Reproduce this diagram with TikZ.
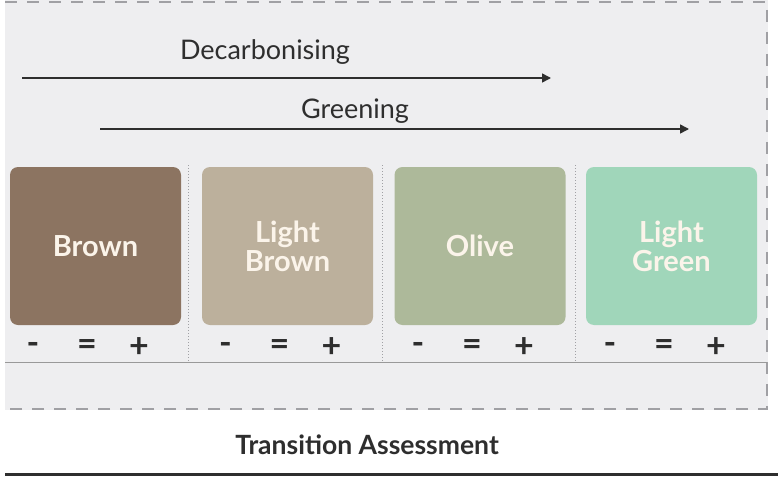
\documentclass[tikz,border=0pt]{standalone}
\usepackage{fontspec}
\setmainfont{Lato}
\usetikzlibrary{arrows.meta}
\definecolor{panel}{HTML}{EEEEF0}
\definecolor{cbrown}{HTML}{8C7461}
\definecolor{clbrown}{HTML}{BCB09C}
\definecolor{colive}{HTML}{ADB99A}
\definecolor{clgreen}{HTML}{A0D6BA}
\definecolor{boxtext}{HTML}{FBF4EA}
\definecolor{ink}{HTML}{2E2E2E}
\definecolor{dashgrey}{HTML}{A0A0A4}
\tikzset{
  colbox/.style={rounded corners=8pt, minimum width=171pt, minimum height=158pt, inner sep=0pt,
    text=boxtext, font=\fontsize{29}{29}\selectfont\bfseries, align=center},
  sign/.style={text=ink, font=\fontsize{34}{36}\selectfont\bfseries, inner sep=0pt},
  arrowlabel/.style={text=ink, font=\fontsize{27}{30}\selectfont, inner sep=0pt},
  flow/.style={ink, line width=1.6pt, -{Triangle[length=9pt,width=9pt]}},
  sep/.style={dashgrey, line width=1pt, dotted},
  frame/.style={dashgrey, line width=1.6pt, dash pattern=on 12pt off 10pt}
}
\begin{document}
\begin{tikzpicture}[x=1pt,y=-1pt]
\useasboundingbox (0,0) rectangle (778,476);
\fill[white] (0,0) rectangle (778,476);
\fill[panel] (5,0) rectangle (768,410);
\draw[frame] (5,2) -- (767,2) -- (767,409) -- (5,409);
% arrows
\coordinate (d0) at (22,78); \coordinate (d1) at (551,78);
\coordinate (g0) at (100,129); \coordinate (g1) at (689,129);
\draw[flow] (d0) -- (d1);
\draw[flow] (g0) -- (g1);
\node[arrowlabel] (dlab) at (265,52) {Decarbonising};
\node[arrowlabel] (glab) at (355,111) {Greening};
% separators
\coordinate (s1t) at (188,165); \coordinate (s1b) at (188,362);
\coordinate (s2t) at (382,165); \coordinate (s2b) at (382,362);
\coordinate (s3t) at (575,165); \coordinate (s3b) at (575,362);
\draw[sep] (s1t) -- (s1b);
\draw[sep] (s2t) -- (s2b);
\draw[sep] (s3t) -- (s3b);
\coordinate (h0) at (5,362); \coordinate (h1) at (767,362);
\draw[gray!80, line width=0.8pt] (h0) -- (h1);
% boxes
\node[colbox, fill=cbrown] (brown) at (95.5,246) {Brown};
\node[colbox, fill=clbrown] (lbrown) at (287.5,246) {Light\\Brown};
\node[colbox, fill=colive] (olive) at (480,246) {Olive};
\node[colbox, fill=clgreen] (lgreen) at (671.5,246) {Light\\Green};
% signs
\foreach \n/\c in {a/0,b/192.5,c/385,d/577}{
  \node[sign] (m\n) at (33+\c,348) {-};
  \node[sign] (e\n) at (87+\c,348) {=};
  \node[sign] (p\n) at (139+\c,348) {+};
}
% title
\node[text=ink, font=\fontsize{26.5}{29}\selectfont\bfseries, inner sep=0pt] (title) at (367,445) {Transition Assessment};
\coordinate (b0) at (5,474.5); \coordinate (b1) at (778,474.5);
\draw[ink, line width=3pt] (b0) -- (b1);
\end{tikzpicture}
\end{document}
